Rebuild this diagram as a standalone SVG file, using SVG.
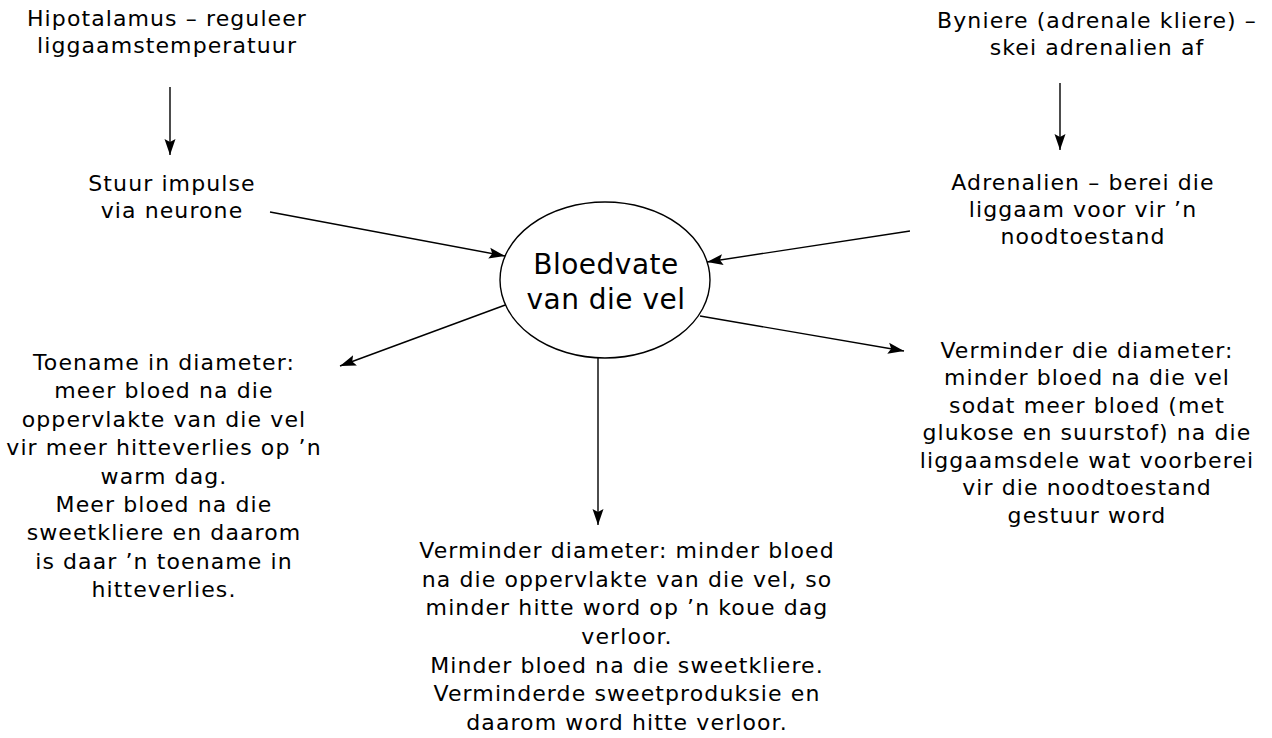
<svg xmlns="http://www.w3.org/2000/svg" width="1272" height="738" viewBox="0 0 1272 738">
<style>
text{font-family:"DejaVu Sans","Open Sans",sans-serif;font-size:22px;letter-spacing:1.1px;fill:#000;text-anchor:middle}
.big{font-size:28px;letter-spacing:0.5px}
.c{stroke:#000;stroke-width:1.4;fill:none}
</style>
<defs>
<marker id="ah" viewBox="0 0 16 12" refX="16" refY="6" markerWidth="16" markerHeight="12" markerUnits="userSpaceOnUse" orient="auto">
<path d="M0,0.5 L16,6 L0,11.5 L3,6 Z" fill="#000"/>
</marker>
</defs>
<rect width="1272" height="738" fill="#fff"/>
<g id="connectors">
<line class="c" x1="170" y1="87" x2="170" y2="155" marker-end="url(#ah)"/>
<line class="c" x1="1060" y1="83" x2="1060" y2="150" marker-end="url(#ah)"/>
<line class="c" x1="270" y1="212" x2="505" y2="256" marker-end="url(#ah)"/>
<line class="c" x1="910" y1="231" x2="707" y2="262" marker-end="url(#ah)"/>
<line class="c" x1="508" y1="304" x2="340" y2="366" marker-end="url(#ah)"/>
<line class="c" x1="700" y1="316" x2="904" y2="351" marker-end="url(#ah)"/>
<line class="c" x1="598" y1="358" x2="598" y2="525" marker-end="url(#ah)"/>
</g>
<g id="hipotalamus">
<text x="167" y="26">Hipotalamus – reguleer</text>
<text x="167" y="53">liggaamstemperatuur</text>
</g>
<g id="byniere">
<text x="1097" y="28">Byniere (adrenale kliere) –</text>
<text x="1097" y="55">skei adrenalien af</text>
</g>
<g id="stuur">
<text x="172" y="191">Stuur impulse</text>
<text x="172" y="218">via neurone</text>
</g>
<g id="adrenalien">
<text x="1083" y="190">Adrenalien – berei die</text>
<text x="1083" y="217">liggaam voor vir ’n</text>
<text x="1083" y="244">noodtoestand</text>
</g>
<g id="bloedvate">
<ellipse cx="605" cy="280" rx="105" ry="78" fill="#fff" stroke="#000" stroke-width="1.4"/>
<text class="big" x="606" y="274">Bloedvate</text>
<text class="big" x="606" y="309">van die vel</text>
</g>
<g id="toename">
<text x="164" y="370">Toename in diameter:</text>
<text x="164" y="398">meer bloed na die</text>
<text x="164" y="427">oppervlakte van die vel</text>
<text x="164" y="455">vir meer hitteverlies op ’n</text>
<text x="164" y="484">warm dag.</text>
<text x="164" y="512">Meer bloed na die</text>
<text x="164" y="540">sweetkliere en daarom</text>
<text x="164" y="569">is daar ’n toename in</text>
<text x="164" y="597">hitteverlies.</text>
</g>
<g id="verminder-die">
<text x="1087" y="358">Verminder die diameter:</text>
<text x="1087" y="385">minder bloed na die vel</text>
<text x="1087" y="413">sodat meer bloed (met</text>
<text x="1087" y="440">glukose en suurstof) na die</text>
<text x="1087" y="468">liggaamsdele wat voorberei</text>
<text x="1087" y="495">vir die noodtoestand</text>
<text x="1087" y="523">gestuur word</text>
</g>
<g id="verminder">
<text x="627" y="558">Verminder diameter: minder bloed</text>
<text x="627" y="587">na die oppervlakte van die vel, so</text>
<text x="627" y="615">minder hitte word op ’n koue dag</text>
<text x="627" y="644">verloor.</text>
<text x="627" y="673">Minder bloed na die sweetkliere.</text>
<text x="627" y="701">Verminderde sweetproduksie en</text>
<text x="627" y="730">daarom word hitte verloor.</text>
</g>
</svg>
